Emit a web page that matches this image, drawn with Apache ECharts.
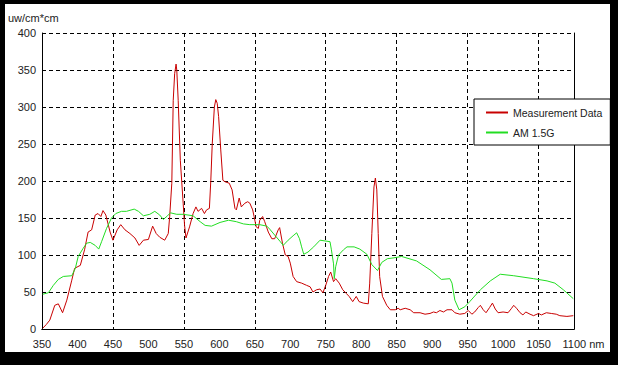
<!DOCTYPE html>
<html><head><meta charset="utf-8">
<script src="https://cdn.jsdelivr.net/npm/echarts@6/dist/echarts.min.js"></script>
<style>
html,body{margin:0;padding:0;background:#000;width:618px;height:365px;overflow:hidden;}
#c{position:absolute;left:5px;top:4px;width:605px;height:348px;background:#fff;}
</style></head>
<body><div id="c"></div>
<script>
// Measurement Data (wavelength nm, uw/cm*cm)
const measX = [351,356,361,368,373,379,385,392,396,404,410,415,420,425,429,433,436,440,446,450,456,461,467,474,481,487,493,500,506,511,516,523,528,530,533,535,537,539,540,542,545,549,551,553,558,563,567,570,575,579,582,586,588,590,593,595,597,599,602,605,608,614,618,622,624,628,631,636,640,643,647,649,652,655,657,661,664,669,674,678,683,685,689,693,697,700,704,709,716,723,728,732,737,742,746,750,754,757,761,764,769,774,779,783,788,793,797,803,810,812,815,818,820,822,824,826,830,836,841,848,852,855,862,869,874,883,890,897,902,906,911,916,921,928,932,939,946,951,956,960,965,968,972,976,981,985,989,993,1000,1007,1012,1015,1019,1024,1028,1032,1038,1043,1050,1054,1061,1068,1075,1080,1090,1099];
const measY = [1,6,12,32,34,22,39,66,82,86,107,131,134,154,156,152,160,154,131,120,134,141,134,129,123,113,120,121,139,129,124,120,129,152,197,309,345,358,350,309,228,170,140,123,138,156,165,159,163,156,161,163,201,250,300,310,305,287,242,201,199,197,188,163,161,177,165,170,172,170,161,152,138,136,147,152,145,131,122,122,134,137,116,100,98,89,71,64,62,59,57,50,53,54,49,59,71,77,64,68,62,53,48,44,37,44,37,35,34,62,129,192,204,188,129,71,44,32,26,26,28,26,28,26,22,22,20,21,23,22,25,23,26,26,22,20,21,25,20,23,29,32,26,22,29,35,27,22,23,22,28,32,28,22,19,23,20,18,21,19,22,21,20,18,17,18];
// AM 1.5G
const amX = [351,359,366,373,380,392,397,401,408,413,418,425,430,434,441,448,454,462,469,480,486,493,502,509,516,521,527,531,540,549,563,573,580,589,601,613,624,634,643,657,667,671,678,686,690,697,704,709,713,716,719,725,733,742,749,756,758,761,762,764,768,775,780,790,798,808,815,823,829,837,845,857,878,897,913,925,928,932,938,946,953,968,982,996,1015,1043,1062,1073,1085,1099];
const amY = [47,49,59,67,71,72,82,98,109,116,117,113,108,118,136,150,156,159,159,162,159,153,155,159,154,148,153,157,155,155,153,145,140,139,144,147,145,142,141,141,139,135,127,118,113,120,126,130,122,111,101,104,111,120,119,118,107,88,68,84,100,107,111,111,108,101,87,79,90,95,96,98,92,80,67,68,62,39,26,30,37,53,65,74,72,68,65,62,53,41];
const seriesNames = ['Measurement Data', 'AM 1.5G'];
const yTitle = 'uw/cm*cm';

const pairs = (xs, ys) => xs.map((x, i) => [x, ys[i]]);
const chart = echarts.init(document.getElementById('c'), null, {renderer: 'svg'});
const font = 'Liberation Sans, Arial, sans-serif';
chart.setOption({
  animation: false,
  title: {text: yTitle, left: 3, top: 8, padding: 0,
    textStyle: {fontSize: 11, fontWeight: 'normal', color: '#222', fontFamily: font}},
  grid: {left: 37, right: 36, top: 29, bottom: 23, containLabel: false},
  legend: {
    orient: 'vertical', left: 469, top: 95,
    padding: [8, 8, 7, 12], itemWidth: 22, itemHeight: 2, itemGap: 9,
    icon: 'rect',
    backgroundColor: '#fff', borderColor: '#000', borderWidth: 1, borderRadius: 0,
    textStyle: {fontSize: 10.5, color: '#222', fontFamily: font},
    data: seriesNames
  },
  xAxis: [{
    type: 'value', min: 350, max: 1100, interval: 50, position: 'bottom',
    axisLine: {lineStyle: {color: '#000', width: 1, type: [4, 2]}},
    axisTick: {show: false}, splitLine: {show: false},
    axisLabel: {fontSize: 11, color: '#222', fontFamily: font, margin: 9,
      showMinLabel: true, showMaxLabel: true,
      formatter: v => v === 1100 ? '{p|}1100 nm' : String(v),
      rich: {p: {width: 19}}}
  }, {
    type: 'value', min: 350, max: 1100, interval: 100, position: 'top',
    axisLine: {lineStyle: {color: '#000', width: 1}},
    axisTick: {show: false}, axisLabel: {show: false},
    splitLine: {show: true, lineStyle: {color: '#000', width: 1, type: [4, 3]}}
  }],
  yAxis: [{
    type: 'value', min: 0, max: 400, interval: 50, position: 'left',
    axisLine: {show: true, lineStyle: {color: '#000', width: 1}},
    axisTick: {show: false},
    axisLabel: {fontSize: 11, color: '#222', fontFamily: font, margin: 6},
    splitLine: {show: true, lineStyle: {color: '#000', width: 1, type: [4, 3]}}
  }, {
    type: 'value', min: 0, max: 400, position: 'right',
    axisLine: {show: true, lineStyle: {color: '#000', width: 1}},
    axisTick: {show: false}, axisLabel: {show: false}, splitLine: {show: false}
  }],
  series: [{
    name: seriesNames[0], type: 'line', symbol: 'none', xAxisIndex: 0, yAxisIndex: 0,
    color: '#c80000', lineStyle: {width: 1, color: '#c80000'},
    data: pairs(measX, measY)
  }, {
    name: seriesNames[1], type: 'line', symbol: 'none', xAxisIndex: 0, yAxisIndex: 0,
    color: '#22dd22', lineStyle: {width: 1, color: '#22dd22'},
    data: pairs(amX, amY)
  }]
});
</script></body></html>
